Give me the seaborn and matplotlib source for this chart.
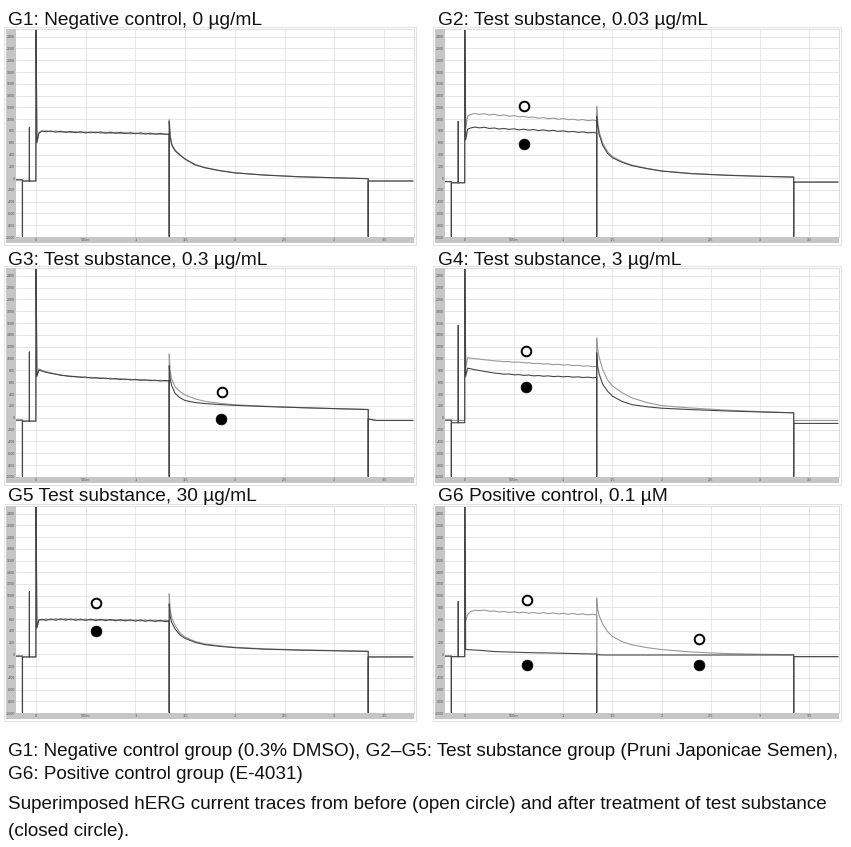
import matplotlib
matplotlib.use("Agg")
import matplotlib.pyplot as plt
from matplotlib.patches import Rectangle
import pandas as pd
import seaborn as sns

sns.set_style("white")
plt.rcParams['font.family'] = ['Liberation Sans', 'DejaVu Sans']

W, H = 851, 847

# ---------------- data (time in ms, current in pA) ----------------
TITLES = ["G1: Negative control, 0 µg/mL", "G2: Test substance, 0.03 µg/mL",
          "G3: Test substance, 0.3 µg/mL", "G4: Test substance, 3 µg/mL",
          "G5 Test substance, 30 µg/mL", "G6 Positive control, 0.1 µM"]

CAPTION = ["G1: Negative control group (0.3% DMSO), G2–G5: Test substance group (Pruni Japonicae Semen),",
           "G6: Positive control group (E-4031)",
           "Superimposed hERG current traces from before (open circle) and after treatment of test substance",
           "(closed circle)."]

Y_TICKS = [-1000, -800, -600, -400, -200, 0, 200, 400, 600, 800, 1000, 1200,
           1400, 1600, 1800, 2000, 2200, 2400]
Y_TICK_LABELS = ["-1000", "-800", "-600", "-400", "-200", "0", "200", "400", "600",
                 "800", "1000", "1200", "1400", "1600", "1800", "2000", "2200", "2400"]
X_TICKS = [0, 500, 1000, 1500, 2000, 2500, 3000, 3500]
X_TICK_LABELS = ["0", "500m", "1", "1.5", "2", "2.5", "3", "3.5"]

# protocol event times (ms)
T_START, T_PRE_DOWN, T_PRE_UP, T_ON, T_OFF, T_END, T_POST, T_STOP = -200, -135, -65, 0, 1340, 3340, 3420, 3790
SPIKE_FLOOR, SPIKE_TOP = -990, 3000

T_PLATEAU = [10, 30, 60, 100, 150, 200, 250, 300, 350, 400, 450, 500, 550, 600, 650,
             700, 750, 800, 850, 900, 950, 1000, 1050, 1100, 1150, 1200, 1250, 1300, 1335]
T_TAIL = [1350, 1365, 1400, 1450, 1500, 1600, 1700, 1850, 2000, 2300, 2650, 3000, 3340]

# per-panel scalars G1..G6
HOLD_PRE = [-30, -60, -40, -40, -30, -30]
HOLD_BEFORE = [-50, -80, -56, -45, -44, -39]
HOLD_AFTER = [-50, -80, -56, -84, -44, -39]
PRE_SPIKE = [860, 960, 1110, 1560, 1070, 900]
PEAK_BEFORE = [990, 1220, 1078, 1350, 1033, 963]
PEAK_AFTER = [960, 1050, 880, 1100, 860, 0]
POST0_BEFORE = [-50, -68, -20, -45, -44, -39]
POST_BEFORE = [-50, -68, -45, -45, -44, -39]
POST0_AFTER = [-50, -68, -20, -95, -44, -39]
POST_AFTER = [-50, -68, -45, -95, -44, -39]

G1_BEFORE_PLATEAU = [620, 775, 790, 805, 785, 798, 778, 792, 772, 788, 768, 784, 765, 782, 760,
                     776, 758, 774, 752, 770, 750, 765, 746, 762, 742, 756, 740, 752, 738]
G1_AFTER_PLATEAU = [600, 760, 800, 785, 800, 780, 795, 775, 790, 770, 786, 766, 780, 770, 782,
                    762, 778, 760, 775, 755, 770, 752, 768, 748, 762, 745, 758, 742, 745]
G1_BEFORE_TAIL = [720, 580, 475, 395, 328, 230, 178, 127, 90, 52, 23, 6, -10]
G1_AFTER_TAIL = [700, 560, 460, 385, 320, 225, 175, 125, 88, 50, 22, 5, -10]

G2_BEFORE_PLATEAU = [850, 1050, 1080, 1095, 1082, 1092, 1070, 1084, 1060, 1072, 1050, 1060, 1040, 1048, 1028,
                     1036, 1016, 1026, 1006, 1018, 998, 1010, 990, 1000, 982, 994, 974, 986, 975]
G2_AFTER_PLATEAU = [650, 830, 850, 866, 852, 862, 842, 850, 832, 842, 826, 836, 818, 830, 814,
                    824, 806, 818, 800, 810, 792, 802, 784, 792, 776, 784, 768, 774, 765]
G2_BEFORE_TAIL = [960, 790, 600, 450, 365, 278, 220, 165, 122, 78, 50, 31, 18]
G2_AFTER_TAIL = [900, 740, 560, 420, 345, 265, 210, 160, 118, 75, 48, 30, 17]

G3_BEFORE_PLATEAU = [730, 825, 805, 778, 762, 735, 728, 704, 708, 688, 694, 676, 684, 668, 676,
                     660, 668, 652, 660, 645, 652, 638, 646, 632, 640, 626, 634, 620, 628]
G3_AFTER_PLATEAU = [700, 805, 790, 770, 750, 738, 716, 712, 696, 698, 682, 688, 672, 678, 664,
                    670, 656, 662, 648, 654, 640, 648, 634, 640, 628, 634, 622, 630, 624]
G3_BEFORE_TAIL = [780, 650, 520, 440, 385, 320, 278, 245, 220, 196, 172, 155, 140]
G3_AFTER_TAIL = [650, 540, 410, 335, 292, 258, 240, 224, 210, 190, 172, 155, 140]

G4_BEFORE_PLATEAU = [850, 1015, 1008, 1000, 992, 980, 972, 962, 956, 948, 950, 938, 942, 928, 930,
                     916, 920, 908, 912, 898, 904, 890, 896, 882, 886, 872, 878, 864, 866]
G4_AFTER_PLATEAU = [700, 838, 828, 812, 800, 782, 770, 756, 748, 736, 740, 726, 730, 716, 722,
                    708, 714, 702, 708, 696, 702, 692, 698, 686, 692, 680, 686, 676, 682]
G4_BEFORE_TAIL = [1150, 1020, 820, 640, 540, 420, 335, 258, 205, 165, 130, 105, 84]
G4_AFTER_TAIL = [860, 740, 570, 450, 365, 275, 222, 186, 162, 138, 116, 98, 84]

G5_BEFORE_PLATEAU = [470, 600, 582, 606, 584, 610, 586, 610, 586, 606, 582, 604, 580, 602, 578,
                     600, 576, 596, 574, 594, 572, 590, 568, 588, 566, 586, 562, 582, 570]
G5_AFTER_PLATEAU = [450, 580, 600, 578, 604, 582, 606, 584, 604, 580, 602, 578, 600, 576, 598,
                    574, 596, 572, 592, 570, 590, 566, 588, 564, 584, 560, 582, 558, 566]
G5_BEFORE_TAIL = [760, 625, 490, 360, 295, 220, 178, 145, 120, 94, 77, 65, 55]
G5_AFTER_TAIL = [650, 545, 430, 330, 272, 205, 165, 136, 114, 88, 72, 61, 50]

G6_BEFORE_PLATEAU = [560, 680, 730, 752, 745, 756, 734, 740, 722, 732, 714, 726, 708, 720, 702,
                     714, 698, 710, 694, 706, 690, 700, 684, 696, 680, 690, 674, 684, 672]
G6_AFTER_PLATEAU = [85, 80, 78, 74, 70, 62, 55, 48, 45, 42, 40, 37, 35, 32, 30,
                    28, 26, 25, 24, 22, 20, 18, 16, 14, 12, 10, 8, 7, 6]
G6_BEFORE_TAIL = [760, 660, 520, 390, 305, 215, 162, 115, 82, 40, 14, 2, -6]
G6_AFTER_TAIL = [-6, -8, -10, -11, -11, -11, -11, -11, -11, -11, -11, -11, -11]

BEFORE_PLATEAUS = [G1_BEFORE_PLATEAU, G2_BEFORE_PLATEAU, G3_BEFORE_PLATEAU,
                   G4_BEFORE_PLATEAU, G5_BEFORE_PLATEAU, G6_BEFORE_PLATEAU]
AFTER_PLATEAUS = [G1_AFTER_PLATEAU, G2_AFTER_PLATEAU, G3_AFTER_PLATEAU,
                  G4_AFTER_PLATEAU, G5_AFTER_PLATEAU, G6_AFTER_PLATEAU]
BEFORE_TAILS = [G1_BEFORE_TAIL, G2_BEFORE_TAIL, G3_BEFORE_TAIL,
                G4_BEFORE_TAIL, G5_BEFORE_TAIL, G6_BEFORE_TAIL]
AFTER_TAILS = [G1_AFTER_TAIL, G2_AFTER_TAIL, G3_AFTER_TAIL,
               G4_AFTER_TAIL, G5_AFTER_TAIL, G6_AFTER_TAIL]

# circle annotations: (panel index, time, current)
OPEN_PANEL = [1, 2, 3, 4, 5, 5]
OPEN_T = [600, 1870, 625, 600, 630, 2377]
OPEN_I = [1225, 430, 1135, 870, 925, 268]
CLOSED_PANEL = [1, 2, 3, 4, 5, 5]
CLOSED_T = [600, 1860, 625, 600, 630, 2377]
CLOSED_I = [570, -12, 525, 390, -175, -182]


def build_trace(hold0, hold, pre_up, plateau, peak, tail, post0, post):
    t = ([T_START, T_PRE_DOWN, T_PRE_DOWN, T_PRE_DOWN, T_PRE_UP, T_PRE_UP, T_PRE_UP, T_ON, T_ON]
         + T_PLATEAU + [T_OFF, T_OFF, T_OFF] + T_TAIL + [T_END, T_END, T_POST, T_STOP])
    i = ([hold0, hold0, SPIKE_FLOOR, hold, hold, pre_up, hold, hold, SPIKE_TOP]
         + plateau + [plateau[-1], SPIKE_FLOOR, peak] + tail + [SPIKE_FLOOR, post0, post, post])
    return pd.DataFrame({"t": t, "I": i})


# ---------------- layout (pixels) ----------------
COL_X = [(16, 414), (445, 839)]
ROW_Y = [(29, 237), (268, 477), (506, 713)]
TITLE_BASE = [25, 265, 501]
TITLE_X = [8, 438]
STRIP_W = 10
STRIP_H = 6

fig = plt.figure(figsize=(W / 100, H / 100), dpi=100)
fig.patch.set_facecolor("white")


def fig_rect(x0, y0, x1, y1):
    return [x0 / W, 1 - y1 / H, (x1 - x0) / W, (y1 - y0) / H]


C_BEFORE = "#999999"
C_AFTER = "#474747"

for p in range(6):
    r, c = divmod(p, 2)
    x0, x1 = COL_X[c]
    y0, y1 = ROW_Y[r]
    # grey axis strips and frame
    fig.add_artist(Rectangle(((x0 - STRIP_W) / W, 1 - (y1 + STRIP_H) / H), STRIP_W / W,
                             (y1 + STRIP_H - y0) / H, transform=fig.transFigure,
                             facecolor="#c6c6c6", edgecolor="none", zorder=0))
    fig.add_artist(Rectangle(((x0 - STRIP_W) / W, 1 - (y1 + STRIP_H) / H), (x1 - x0 + STRIP_W) / W,
                             STRIP_H / H, transform=fig.transFigure,
                             facecolor="#c6c6c6", edgecolor="none", zorder=0))
    fig.add_artist(Rectangle(((x0 - STRIP_W - 2) / W, 1 - (y1 + STRIP_H + 2) / H),
                             (x1 - x0 + STRIP_W + 4) / W, (y1 + STRIP_H + 2 - y0 + 2) / H,
                             transform=fig.transFigure, facecolor="none",
                             edgecolor="#e2e2e2", lw=0.7, zorder=0))

    ax = fig.add_axes(fig_rect(x0, y0, x1, y1))
    ax.set_facecolor("white")
    ax.set_axisbelow(True)
    ax.set_xlim(-200, 3800)
    ax.set_ylim(-1000, 2530)
    ax.set_yticks(Y_TICKS)
    ax.set_yticklabels(Y_TICK_LABELS)
    ax.set_xticks(X_TICKS)
    ax.set_xticklabels(X_TICK_LABELS)
    ax.tick_params(axis="y", length=0, pad=1, labelsize=2.6, labelcolor="#555555")
    ax.tick_params(axis="x", length=0, pad=0.8, labelsize=2.8, labelcolor="#555555")
    ax.grid(True, color="#e3e3e3", lw=0.6)
    for s in ["left", "bottom"]:
        ax.spines[s].set_visible(False)
    for s in ["top", "right"]:
        ax.spines[s].set_color("#dcdcdc")
        ax.spines[s].set_linewidth(0.7)

    before = build_trace(HOLD_PRE[p], HOLD_BEFORE[p], PRE_SPIKE[p], BEFORE_PLATEAUS[p],
                         PEAK_BEFORE[p], BEFORE_TAILS[p], POST0_BEFORE[p], POST_BEFORE[p])
    after = build_trace(HOLD_PRE[p], HOLD_AFTER[p], PRE_SPIKE[p], AFTER_PLATEAUS[p],
                        PEAK_AFTER[p], AFTER_TAILS[p], POST0_AFTER[p], POST_AFTER[p])
    sns.lineplot(data=before, x="t", y="I", ax=ax, sort=False, estimator=None,
                 color=C_BEFORE, lw=0.8)
    sns.lineplot(data=after, x="t", y="I", ax=ax, sort=False, estimator=None,
                 color=C_AFTER, lw=0.8)

    ot = [OPEN_T[k] for k in range(len(OPEN_T)) if OPEN_PANEL[k] == p]
    oi = [OPEN_I[k] for k in range(len(OPEN_I)) if OPEN_PANEL[k] == p]
    ct = [CLOSED_T[k] for k in range(len(CLOSED_T)) if CLOSED_PANEL[k] == p]
    ci = [CLOSED_I[k] for k in range(len(CLOSED_I)) if CLOSED_PANEL[k] == p]
    if ot:
        sns.scatterplot(x=ot, y=oi, ax=ax, marker="o", s=48, facecolor="white",
                        edgecolor="black", linewidth=1.4, zorder=5)
    if ct:
        sns.scatterplot(x=ct, y=ci, ax=ax, marker="o", s=60, color="black",
                        edgecolor="black", linewidth=0.5, zorder=5)
    ax.set_xlabel("")
    ax.set_ylabel("")

    fig.text(TITLE_X[c] / W, 1 - TITLE_BASE[r] / H, TITLES[p], fontsize=13.8,
             va="baseline", ha="left", color="#111111")

CAP_BASE = [756, 779, 809, 836]
for k, line in enumerate(CAPTION):
    fig.text(8 / W, 1 - CAP_BASE[k] / H, line, fontsize=13.6, va="baseline",
             ha="left", color="#111111")

fig.savefig("out.png", dpi=100, facecolor="white")
